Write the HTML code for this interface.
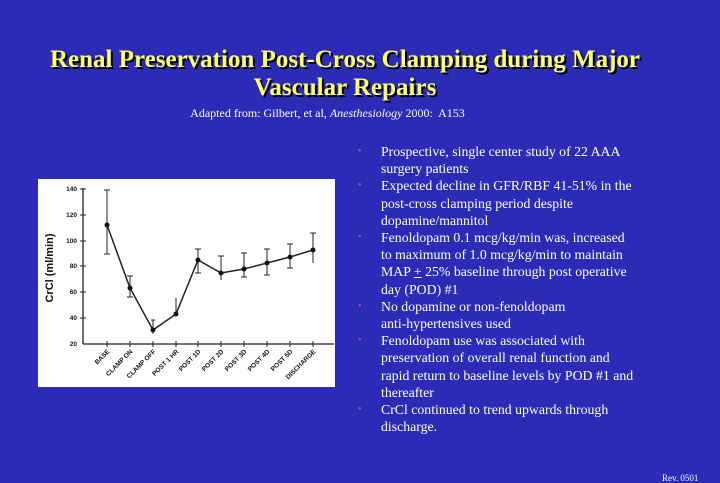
<!DOCTYPE html>
<html><head><meta charset="utf-8"><style>
body{margin:0;width:720px;height:480px;background:#2b2bb8;overflow:hidden;position:relative;font-family:"Liberation Serif",serif}
.t{position:absolute;left:0;width:690px;text-align:center;color:#ffff66;font-weight:bold;font-size:25px;line-height:28px;text-shadow:2px 2px 0 #000}
.s{position:absolute;top:106px;left:0;width:655px;text-align:center;color:#fff;font-size:12px}
.b{position:absolute;left:381px;top:143px;width:330px;color:#fff;font-size:13.8px;line-height:17.2px;white-space:nowrap}
.b div{position:relative}
.b div:before{content:"•";position:absolute;left:-23px;color:#d040c0;font-size:10px}
.r{position:absolute;left:662px;top:473px;color:#fff;font-size:9px}
</style></head><body>
<div class="t" style="top:46px">Renal Preservation Post-Cross Clamping during Major</div>
<div class="t" style="top:74px">Vascular Repairs</div>
<div class="s">Adapted from: Gilbert, et al, <i>Anesthesiology</i> 2000:&nbsp; A153</div>
<svg style="position:absolute;left:38px;top:179px" width="297" height="208" viewBox="38 179 297 208">
<rect x="38" y="179" width="297" height="208" fill="#fff"/>
<g stroke="#222" stroke-width="1.3" fill="none">
<line x1="83" y1="188" x2="83" y2="344"/>
<line x1="83" y1="344" x2="334" y2="344"/>
<g stroke-width="1">
<line x1="80" y1="189" x2="86" y2="189"/><line x1="80" y1="215" x2="86" y2="215"/><line x1="80" y1="241" x2="86" y2="241"/><line x1="80" y1="266" x2="86" y2="266"/><line x1="80" y1="292" x2="86" y2="292"/><line x1="80" y1="318" x2="86" y2="318"/>
<line x1="107" y1="341" x2="107" y2="347"/><line x1="130" y1="341" x2="130" y2="347"/><line x1="153" y1="341" x2="153" y2="347"/><line x1="176" y1="341" x2="176" y2="347"/><line x1="198" y1="341" x2="198" y2="347"/><line x1="221" y1="341" x2="221" y2="347"/><line x1="244" y1="341" x2="244" y2="347"/><line x1="267" y1="341" x2="267" y2="347"/><line x1="290" y1="341" x2="290" y2="347"/><line x1="313" y1="341" x2="313" y2="347"/>
<path d="M107 190V254M104 190h6M104 254h6 M130 276V297M127 276h6M127 297h6 M153 320V334M151 320h4 M176 298V316 M198 249V273M195 249h6M195 273h6 M221 256V280M218 256h6 M244 253V277M241 253h6M241 277h6 M267 249V275M264 249h6M264 275h6 M290 244V268M287 244h6M287 268h6 M313 233V263M310 233h6"/>
</g>
<polyline stroke-width="1.5" points="107,225 130,288 153,330 176,314 198,260 221,273 244,269 267,263 290,257 313,250"/>
</g>
<g fill="#111">
<circle cx="107" cy="225" r="2.5"/><circle cx="130" cy="288" r="2.5"/><circle cx="153" cy="330" r="2.5"/><circle cx="176" cy="314" r="2.5"/><circle cx="198" cy="260" r="2.5"/><circle cx="221" cy="273" r="2.5"/><circle cx="244" cy="269" r="2.5"/><circle cx="267" cy="263" r="2.5"/><circle cx="290" cy="257" r="2.5"/><circle cx="313" cy="250" r="2.5"/>
</g>
<g font-family="Liberation Sans,sans-serif" font-size="6.5" font-weight="bold" fill="#111" text-anchor="end">
<text x="77" y="191">140</text><text x="77" y="217">120</text><text x="77" y="243">100</text><text x="77" y="268">80</text><text x="77" y="294">60</text><text x="77" y="320">40</text><text x="77" y="346">20</text>
<text transform="translate(110,352) rotate(-45)">BASE</text>
<text transform="translate(133,352) rotate(-45)">CLAMP ON</text>
<text transform="translate(156,352) rotate(-45)">CLAMP OFF</text>
<text transform="translate(179,352) rotate(-45)">POST 1 HR</text>
<text transform="translate(201,352) rotate(-45)">POST 1D</text>
<text transform="translate(224,352) rotate(-45)">POST 2D</text>
<text transform="translate(247,352) rotate(-45)">POST 3D</text>
<text transform="translate(270,352) rotate(-45)">POST 4D</text>
<text transform="translate(293,352) rotate(-45)">POST 5D</text>
<text transform="translate(316,352) rotate(-45)">DISCHARGE</text>
</g>
<text transform="translate(53,268) rotate(-90)" text-anchor="middle" font-family="Liberation Sans,sans-serif" font-size="11" font-weight="bold" fill="#111">CrCl (ml/min)</text>
</svg>
<div class="b">
<div>Prospective, single center study of 22 AAA<br>surgery patients</div>
<div>Expected decline in GFR/RBF 41-51% in the<br>post-cross clamping period despite<br>dopamine/mannitol</div>
<div>Fenoldopam 0.1 mcg/kg/min was, increased<br>to maximum of 1.0 mcg/kg/min to maintain<br>MAP <u>+</u> 25% baseline through post operative<br>day (POD) #1</div>
<div>No dopamine or non-fenoldopam<br>anti-hypertensives used</div>
<div>Fenoldopam use was associated with<br>preservation of overall renal function and<br>rapid return to baseline levels by POD #1 and<br>thereafter</div>
<div>CrCl continued to trend upwards through<br>discharge.</div>
</div>
<div class="r">Rev. 0501</div>
</body></html>
